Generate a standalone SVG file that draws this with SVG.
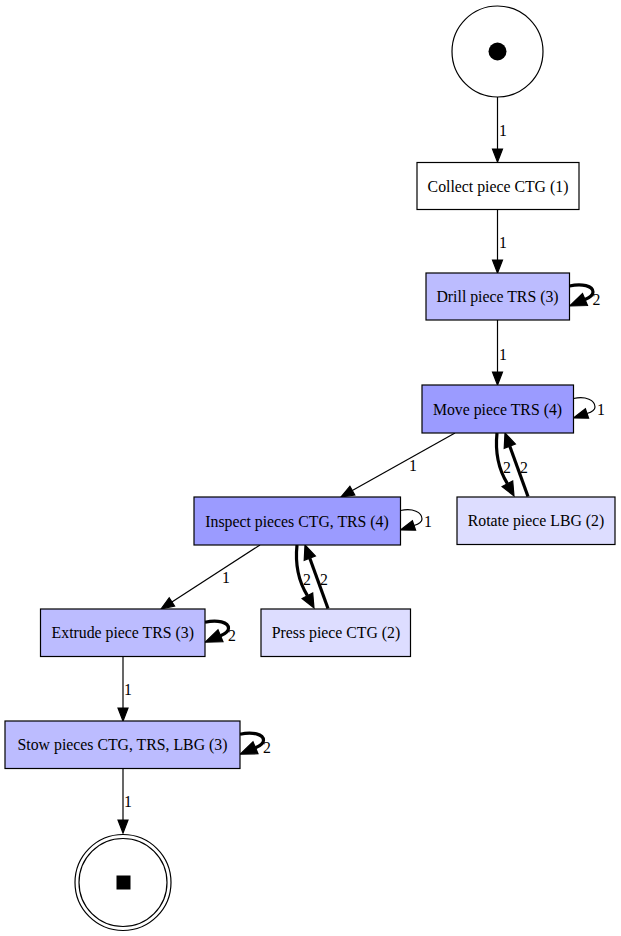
<svg xmlns="http://www.w3.org/2000/svg" width="621" height="936" viewBox="0 0 621 936">
<style>
text{font-family:"Liberation Serif","Times New Roman",serif;font-size:15.8px;fill:#000}
.n{text-anchor:middle}
.box{stroke:#000;stroke-width:1.2}
.e{fill:none;stroke:#000;stroke-width:1.2}
.t{fill:none;stroke:#000;stroke-width:3.2}
.ah{fill:#000;stroke:#000;stroke-width:1.2}
.f1{fill:#FFFFFF}.f2{fill:#DDDDFF}.f3{fill:#BCBCFF}.f4{fill:#9B9BFF}
</style>
<defs>
<g id="thickloop">
<path class="t" d="M0,-10.5 C12.5,-13.5 23.5,-10.5 23.5,-4.5 C23.5,-1.5 20.5,1 15.5,3"/>
<polygon class="ah" points="0,9.5 18,9 13,-3"/>
</g>
<g id="thinloop">
<path class="e" d="M0,-10.5 C12.5,-13 21.5,-9 21.5,-2 C21.5,1 18.5,3 13.5,4.5"/>
<polygon class="ah" points="0,9 15.1,9.25 11.9,-0.25"/>
</g>
</defs>
<rect width="621" height="936" fill="#fff"/>
<g id="connectors">
<line class="e" x1="497.5" y1="97" x2="497.5" y2="149"/>
<polygon class="ah" points="497.5,162 492.5,149 502.5,149"/>
<text x="499" y="136">1</text>
<line class="e" x1="497.5" y1="209.5" x2="497.5" y2="260"/>
<polygon class="ah" points="497.5,273 492.5,260 502.5,260"/>
<text x="499" y="248">1</text>
<line class="e" x1="497.5" y1="320" x2="497.5" y2="372"/>
<polygon class="ah" points="497.5,385 492.5,372 502.5,372"/>
<text x="499" y="360">1</text>
<use href="#thickloop" x="569.5" y="296.5"/>
<text x="592.5" y="305">2</text>
<line class="e" x1="455" y1="433" x2="352.3" y2="490.6"/>
<polygon class="ah" points="341,497 354.8,495 349.9,486.2"/>
<text class="n" x="413" y="471">1</text>
<path class="t" d="M497,433 C495,452 499,470 507.4,483.7"/>
<polygon class="ah" points="514,496 512.7,480.9 502.1,486.5"/>
<text class="n" x="507" y="473">2</text>
<line class="t" x1="528" y1="496.5" x2="509.8" y2="446.2"/>
<polygon class="ah" points="505,433 515.4,444.1 504.2,448.3"/>
<text class="n" x="524" y="473">2</text>
<use href="#thinloop" x="573.5" y="409"/>
<text x="597" y="415">1</text>
<line class="e" x1="260" y1="545" x2="171.9" y2="601.9"/>
<polygon class="ah" points="161,609 174.6,606.1 169.2,597.7"/>
<text class="n" x="226" y="583">1</text>
<path class="t" d="M297,545 C295,564 299,582 307.4,595.7"/>
<polygon class="ah" points="314,608 312.7,592.9 302.1,598.5"/>
<text class="n" x="307" y="585">2</text>
<line class="t" x1="328" y1="608.5" x2="309.8" y2="558.2"/>
<polygon class="ah" points="305,545 315.4,556.1 304.2,560.3"/>
<text class="n" x="324" y="585">2</text>
<use href="#thinloop" x="400.5" y="521"/>
<text x="424" y="527">1</text>
<line class="e" x1="123" y1="656.5" x2="123" y2="708"/>
<polygon class="ah" points="123,721 118,708 128,708"/>
<text x="124" y="695">1</text>
<use href="#thickloop" x="205" y="632.75"/>
<text x="228" y="641">2</text>
<use href="#thickloop" x="240" y="744.75"/>
<text x="263" y="753">2</text>
<line class="e" x1="123" y1="768.5" x2="123" y2="820"/>
<polygon class="ah" points="123,833 118,820 128,820"/>
<text x="124" y="807">1</text>
</g>
<g id="start">
<circle cx="497.5" cy="51.5" r="45.5" fill="#fff" stroke="#000" stroke-width="1.2"/>
<circle cx="497.5" cy="51.5" r="9" fill="#000"/>
</g>
<g id="collect">
<rect class="box f1" x="417" y="162.5" width="162" height="47"/>
<text class="n" x="498" y="191.5">Collect piece CTG (1)</text>
</g>
<g id="drill">
<rect class="box f3" x="426" y="273" width="143.5" height="47"/>
<text class="n" x="497.5" y="302">Drill piece TRS (3)</text>
</g>
<g id="move">
<rect class="box f4" x="422" y="385" width="151.5" height="48"/>
<text class="n" x="497.5" y="414.5">Move piece TRS (4)</text>
</g>
<g id="rotate">
<rect class="box f2" x="457" y="497" width="158" height="47.5"/>
<text class="n" x="536" y="526">Rotate piece LBG (2)</text>
</g>
<g id="inspect">
<rect class="box f4" x="194" y="497" width="206.5" height="48"/>
<text class="n" x="297" y="526.5">Inspect pieces CTG, TRS (4)</text>
</g>
<g id="press">
<rect class="box f2" x="261" y="609" width="149.5" height="47.5"/>
<text class="n" x="336" y="638">Press piece CTG (2)</text>
</g>
<g id="extrude">
<rect class="box f3" x="40.5" y="609" width="164.5" height="47.5"/>
<text class="n" x="122.75" y="638">Extrude piece TRS (3)</text>
</g>
<g id="stow">
<rect class="box f3" x="5" y="721" width="235" height="47.5"/>
<text class="n" x="122.5" y="750">Stow pieces CTG, TRS, LBG (3)</text>
</g>
<g id="end">
<circle cx="123" cy="882.5" r="48" fill="#fff" stroke="#000" stroke-width="1.2"/>
<circle cx="123" cy="882.5" r="44" fill="none" stroke="#000" stroke-width="1.2"/>
<rect x="116.5" y="875.5" width="14" height="14" fill="#000"/>
</g>
</svg>
